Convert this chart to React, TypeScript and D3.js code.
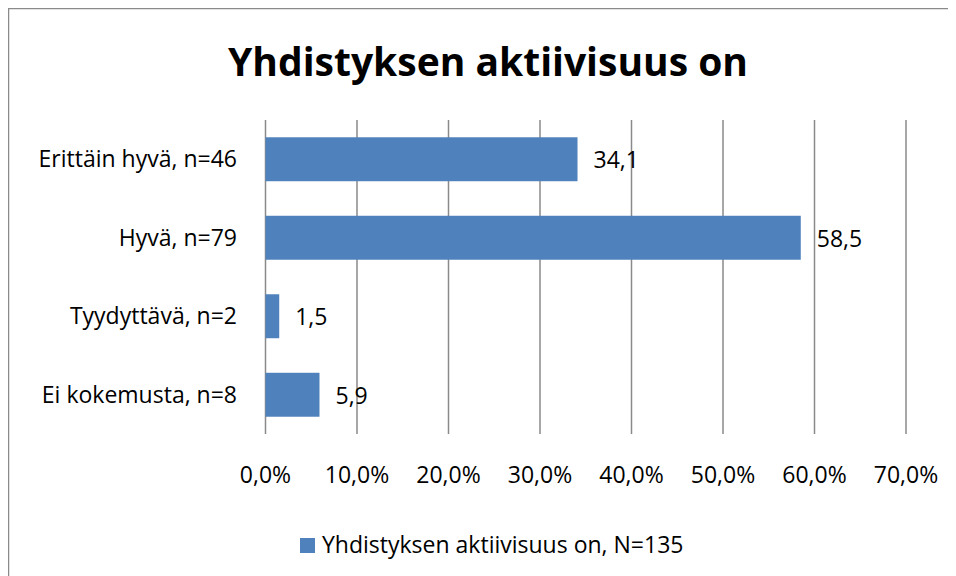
import * as d3 from "d3";

const categories = ["Erittäin hyvä, n=46", "Hyvä, n=79", "Tyydyttävä, n=2", "Ei kokemusta, n=8"];
const values = [34.1, 58.5, 1.5, 5.9];
const valueLabels = ["34,1", "58,5", "1,5", "5,9"];
const ticks = [0, 10, 20, 30, 40, 50, 60, 70];
const title = "Yhdistyksen aktiivisuus on";
const legendLabel = "Yhdistyksen aktiivisuus on, N=135";

const width = 948;
const height = 568;
const plot = { left: 257.5, right: 898, top: 112, bottom: 426 };
const font = "'Open Sans', sans-serif";
const barColor = "#4f81bd";
const lineColor = "#8a8a8a";

export default function App() {
  const x = d3.scaleLinear().domain([0, 70]).range([plot.left, plot.right]);
  const y = d3
    .scaleBand()
    .domain(categories)
    .range([plot.top, plot.bottom])
    .paddingInner(0.44)
    .paddingOuter(0.22);

  return (
    <svg width={width} height={height} style={{ display: "block" }}>
      <rect x={0.5} y={0.5} width={width + 20} height={height + 20} fill="#fff" stroke={lineColor} strokeWidth={1.5} />
      <text x={480} y={68} textAnchor="middle" fontFamily={font} fontWeight="bold" fontSize={39} fill="#000">
        {title}
      </text>

      {ticks.map((t) => (
        <line key={t} x1={x(t)} x2={x(t)} y1={plot.top} y2={plot.bottom} stroke={lineColor} strokeWidth={1.5} />
      ))}
      {ticks.map((t) => (
        <text key={"t" + t} x={x(t)} y={475} textAnchor="middle" fontFamily={font} fontSize={23} fill="#000">
          {t.toFixed(1).replace(".", ",") + "%"}
        </text>
      ))}

      {categories.map((c, i) => {
        const mid = (y(c) ?? 0) + y.bandwidth() / 2;
        return (
          <g key={c}>
            <rect x={x(0)} y={y(c)} width={x(values[i]) - x(0)} height={y.bandwidth()} fill={barColor} />
            <text x={229} y={mid + 8} textAnchor="end" fontFamily={font} fontSize={23} fill="#000">
              {c}
            </text>
            <text x={x(values[i]) + 16} y={mid + 9} fontFamily={font} fontSize={23} fill="#000">
              {valueLabels[i]}
            </text>
          </g>
        );
      })}

      <rect x={292} y={530} width={15} height={15} fill={barColor} />
      <text x={314} y={545} fontFamily={font} fontSize={23} fill="#000">
        {legendLabel}
      </text>
    </svg>
  );
}
